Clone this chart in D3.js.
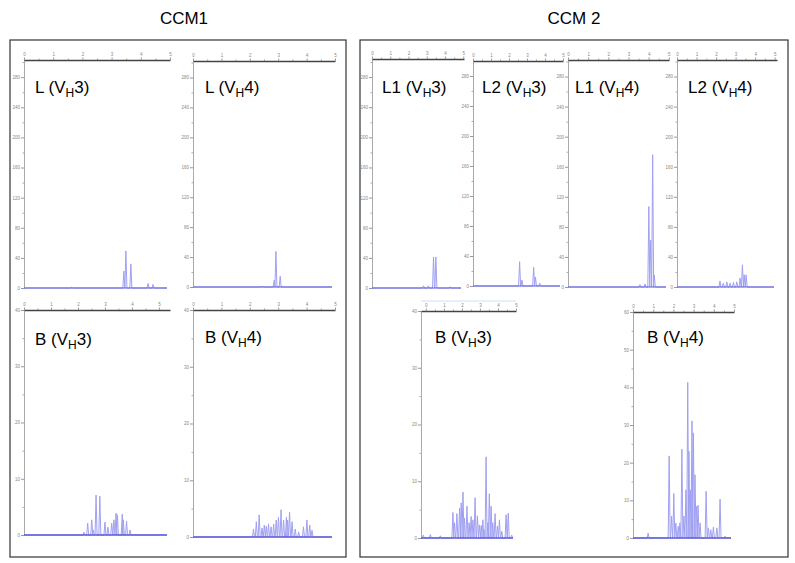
<!DOCTYPE html>
<html>
<head>
<meta charset="utf-8">
<script src="https://cdn.jsdelivr.net/npm/d3@7"></script>
<style>
  body { margin: 0; background: #fff; }
  svg { display: block; font-family: "Liberation Sans", Arial, sans-serif; }
</style>
</head>
<body>
<svg id="chart" width="795" height="563"></svg>
<script>
// group titles
const groupTitles = ['CCM1', 'CCM 2'];

// panel labels: prefix + V_H family, in drawing order
const labelPrefix = ['L', 'L', 'B', 'B', 'L1', 'L2', 'L1', 'L2', 'B', 'B'];
const labelFamily = ['3', '4', '3', '4', '3', '3', '4', '4', '3', '4'];

// tick labels
const sizeTickLabels = ['0', '1', '2', '3', '4', '5'];
const lightIntensityLabels = ['0', '40', '80', '120', '160', '200', '240', '280'];
const bloodIntensityLabels = ['0', '10', '20', '30', '40'];
const bloodVh4IntensityLabels = ['0', '10', '20', '30', '40', '50', '60'];

// peaks: [size (top-axis tick units), intensity (left-axis tick units)]
const ccm1LVh3 = [[1.64, 0.03], [3.42, 0.56], [3.49, 1.23], [3.66, 0.80], [4.25, 0.15], [4.42, 0.12]];
const ccm1LVh4 = [[2.43, 0.03], [2.86, 0.23], [2.92, 1.19], [3.07, 0.36]];
const ccm1BVh3 = [[2.22, 0.05], [2.36, 0.21], [2.51, 0.27], [2.57, 0.09], [2.67, 0.71], [2.81, 0.69],
  [3.00, 0.23], [3.11, 0.14], [3.25, 0.21], [3.33, 0.27], [3.41, 0.39], [3.46, 0.36],
  [3.64, 0.37], [3.68, 0.27], [3.80, 0.25], [3.93, 0.09]];
const ccm1BVh4 = [[2.13, 0.14], [2.23, 0.27], [2.33, 0.39], [2.43, 0.16], [2.51, 0.21], [2.58, 0.19],
  [2.66, 0.23], [2.75, 0.18], [2.84, 0.23], [2.93, 0.30], [3.01, 0.35], [3.10, 0.48],
  [3.19, 0.30], [3.29, 0.35], [3.33, 0.30], [3.40, 0.44], [3.49, 0.27], [3.60, 0.14],
  [3.72, 0.09], [3.89, 0.18], [4.01, 0.30], [4.11, 0.21], [4.19, 0.12]];
const ccm2L1Vh3 = [[2.82, 0.07], [3.09, 0.07], [3.37, 1.03], [3.50, 1.03], [4.28, 0.04]];
const ccm2L2Vh3 = [[2.59, 0.81], [2.72, 0.20], [3.37, 0.62], [3.47, 0.30], [3.71, 0.09]];
const ccm2L1Vh4 = [[3.57, 0.08], [3.82, 0.10], [4.01, 2.68], [4.10, 1.56], [4.20, 4.40], [4.28, 0.40]];
const ccm2L2Vh4 = [[2.20, 0.20], [2.37, 0.13], [2.55, 0.17], [2.72, 0.13], [2.89, 0.15], [3.06, 0.17],
  [3.23, 0.30], [3.35, 0.74], [3.44, 0.41], [3.54, 0.40]];
const ccm2BVh3 = [[-0.14, 0.05], [0.25, 0.06], [0.80, 0.04], [1.50, 0.45], [1.59, 0.27], [1.72, 0.43],
  [1.87, 0.53], [1.96, 0.62], [2.06, 0.81], [2.14, 0.35], [2.28, 0.56], [2.40, 0.27],
  [2.51, 0.38], [2.61, 0.32], [2.73, 0.71], [2.86, 0.39], [2.97, 0.23], [3.07, 0.22],
  [3.16, 0.32], [3.23, 0.15], [3.34, 1.43], [3.44, 0.27], [3.52, 0.78], [3.62, 0.56],
  [3.71, 0.27], [3.84, 0.43], [3.97, 0.21], [4.08, 0.32], [4.21, 0.12], [4.45, 0.41],
  [4.57, 0.44], [4.76, 0.05]];
const ccm2BVh4 = [[0.75, 0.13], [1.79, 2.18], [1.91, 0.58], [2.02, 1.18], [2.12, 0.40], [2.24, 0.31],
  [2.32, 0.40], [2.42, 2.36], [2.52, 0.58], [2.62, 1.28], [2.71, 4.13], [2.77, 2.30],
  [2.86, 1.28], [2.92, 3.11], [2.99, 2.79], [3.07, 1.68], [3.15, 0.84], [3.22, 0.87],
  [3.32, 0.40], [3.62, 1.24], [3.73, 0.27], [3.85, 0.22], [3.98, 0.29], [4.15, 0.27],
  [4.31, 1.03], [4.56, 0.05]];

// layout of each panel (pixels) and axis extents
const panels = [
  { peaks: ccm1LVh3, x0: 24,  x1: 170, top: 60,  base: 288, xDom: [0, 5],     yMax: 7.57, yLabels: lightIntensityLabels, lx: 35,  ly: 93 },
  { peaks: ccm1LVh4, x0: 193, x1: 335, top: 61,  base: 287, xDom: [0, 5],     yMax: 7.55, yLabels: lightIntensityLabels, lx: 205, ly: 93 },
  { peaks: ccm1BVh3, x0: 24,  x1: 170, top: 310, base: 535, xDom: [0, 5.41],  yMax: 4,    yLabels: bloodIntensityLabels, lx: 35,  ly: 345 },
  { peaks: ccm1BVh4, x0: 193, x1: 335, top: 310, base: 537, xDom: [0, 5],     yMax: 4,    yLabels: bloodIntensityLabels, lx: 205, ly: 343 },
  { peaks: ccm2L1Vh3, x0: 372, x1: 464, top: 59, base: 288, xDom: [0, 5.04],  yMax: 7.6,  yLabels: lightIntensityLabels, lx: 382, ly: 93 },
  { peaks: ccm2L2Vh3, x0: 473, x1: 563, top: 61, base: 286, xDom: [0, 5],     yMax: 7.5,  yLabels: lightIntensityLabels, lx: 482, ly: 93 },
  { peaks: ccm2L1Vh4, x0: 568, x1: 669, top: 60, base: 287, xDom: [0, 5.01],  yMax: 7.55, yLabels: lightIntensityLabels, lx: 575, ly: 93 },
  { peaks: ccm2L2Vh4, x0: 677, x1: 777, top: 60, base: 287, xDom: [0, 5.12],  yMax: 7.55, yLabels: lightIntensityLabels, lx: 688, ly: 93 },
  { peaks: ccm2BVh3, x0: 421, x1: 516, top: 311, base: 538, xDom: [-0.27, 5], yMax: 4,    yLabels: bloodIntensityLabels, lx: 435, ly: 343, faint: true },
  { peaks: ccm2BVh4, x0: 633, x1: 734, top: 312, base: 538, xDom: [0, 5],     yMax: 6,    yLabels: bloodVh4IntensityLabels, lx: 647, ly: 343 }
];

const PEAK_COLOR = '#a0a0f2';
const BASE_COLOR = '#5a5ad8';

const svg = d3.select('#chart');

// outer boxes and group titles
const boxes = [[10, 346], [360, 788]];
boxes.forEach((b, i) => {
  svg.append('rect')
    .attr('x', b[0]).attr('y', 40)
    .attr('width', b[1] - b[0]).attr('height', 517)
    .attr('fill', 'none').attr('stroke', '#333').attr('stroke-width', 1.2);
  svg.append('text')
    .attr('x', (b[0] + b[1]) / 2 + (i === 0 ? 6 : 0)).attr('y', 24)
    .attr('text-anchor', 'middle')
    .attr('font-size', 17)
    .text(groupTitles[i]);
});

panels.forEach((p, idx) => {
  const xs = d3.scaleLinear().domain(p.xDom).range([p.x0, p.x1]);
  const ys = d3.scaleLinear().domain([0, p.yMax]).range([p.base, p.top]);
  const g = svg.append('g');

  // left intensity axis: minor then major ticks
  const majors = d3.range(0, p.yLabels.length);
  const minors = d3.range(0.5, p.yMax, 1);
  g.append('g')
    .attr('transform', `translate(${p.x0},0)`)
    .call(d3.axisLeft(ys).tickValues(minors).tickSize(1.5).tickSizeOuter(0).tickFormat(''))
    .call(a => a.selectAll('line,path').attr('stroke', '#aaa'));
  g.append('g')
    .attr('transform', `translate(${p.x0},0)`)
    .call(d3.axisLeft(ys).tickValues(majors).tickSize(3).tickSizeOuter(0).tickPadding(1)
      .tickFormat(i => p.yLabels[i]))
    .call(a => a.select('.domain').attr('stroke', '#aaa'))
    .call(a => a.selectAll('line').attr('stroke', '#999'))
    .call(a => a.selectAll('text').attr('font-size', 4.5).attr('fill', '#888'));

  // top size axis
  const xMajors = d3.range(Math.ceil(p.xDom[0]), Math.floor(p.xDom[1] + 1e-9) + 1);
  const xMinors = d3.range(Math.ceil(p.xDom[0] - 0.5) + 0.5, p.xDom[1], 1);
  if (p.faint) {
    g.append('line')
      .attr('x1', xs.range()[0]).attr('x2', xs.range()[1])
      .attr('y1', p.top - 10).attr('y2', p.top - 10)
      .attr('stroke', '#cfe0f0').attr('stroke-width', 1);
  }
  g.append('g')
    .attr('transform', `translate(0,${p.top})`)
    .call(d3.axisTop(xs).tickValues(xMinors).tickSize(1.5).tickSizeOuter(0).tickFormat(''))
    .call(a => a.select('.domain').remove())
    .call(a => a.selectAll('line').attr('stroke', '#aaa'));
  g.append('g')
    .attr('transform', `translate(0,${p.top})`)
    .call(d3.axisTop(xs).tickValues(xMajors).tickSize(2.5).tickSizeOuter(0).tickPadding(1.5)
      .tickFormat(i => sizeTickLabels[i]))
    .call(a => a.select('.domain').attr('stroke', '#444').attr('stroke-width', 1.6))
    .call(a => a.selectAll('line').attr('stroke', '#999'))
    .call(a => a.selectAll('text').attr('font-size', 4.5).attr('fill', '#888'));

  // trace: baseline plus one narrow spike per peak
  const pts = [[p.x0, ys(0)]];
  p.peaks.slice().sort((a, b) => a[0] - b[0]).forEach(([x, h]) => {
    const px = xs(x);
    pts.push([px - 1, ys(0)], [px, ys(h)], [px + 1, ys(0)]);
  });
  pts.push([p.x1 - 3, ys(0)]);
  g.append('path')
    .attr('d', d3.line()(pts))
    .attr('fill', 'none')
    .attr('stroke', PEAK_COLOR)
    .attr('stroke-width', 1);
  g.append('line')
    .attr('x1', p.x0).attr('x2', p.x1 - 3)
    .attr('y1', ys(0)).attr('y2', ys(0))
    .attr('stroke', BASE_COLOR)
    .attr('stroke-width', p.top > 200 ? 1.5 : 1.1);

  // panel label, e.g. L (V_H 3)
  const t = g.append('text')
    .attr('x', p.lx).attr('y', p.ly)
    .attr('font-size', 17);
  t.append('tspan').text(labelPrefix[idx] + ' (V');
  t.append('tspan').attr('font-size', 12).attr('dy', 4).text('H');
  t.append('tspan').attr('dy', -4).text(labelFamily[idx] + ')');
});
</script>
</body>
</html>
